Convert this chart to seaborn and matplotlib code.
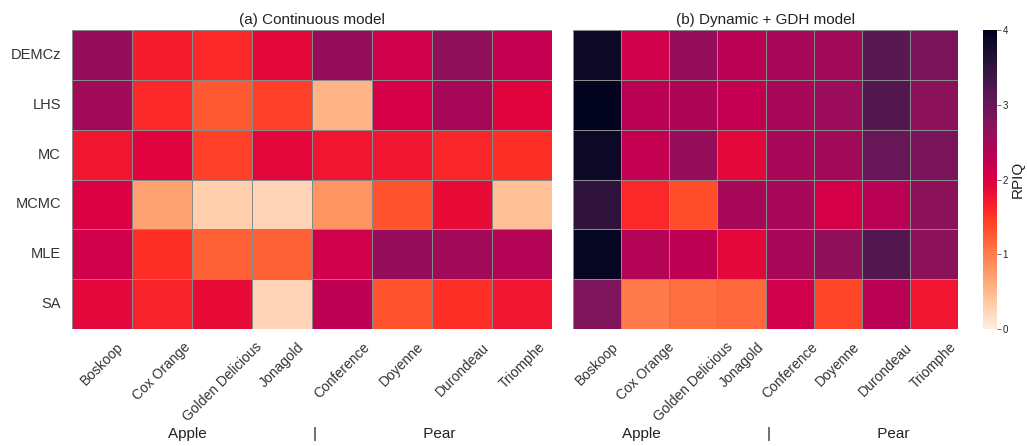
import numpy as np
import pandas as pd
import matplotlib
matplotlib.use("Agg")
import matplotlib.pyplot as plt
import matplotlib.colors as mcolors
import seaborn as sns

# Methods (rows) and cultivars (columns)
metodos = ["DEMCz", "LHS", "MC", "MCMC", "MLE", "SA"]
cultivares = ["Boskoop", "Cox Orange", "Golden Delicious", "Jonagold",
              "Conference", "Doyenne", "Durondeau", "Triomphe"]

# RPIQ values
rpiq_continuo = [
    [2.60, 1.70, 1.60, 1.90, 2.60, 2.10, 2.65, 2.20],
    [2.50, 1.60, 1.25, 1.45, 0.55, 2.05, 2.45, 1.95],
    [1.75, 1.95, 1.45, 1.90, 1.75, 1.75, 1.62, 1.55],
    [2.00, 0.70, 0.30, 0.25, 0.80, 1.30, 1.85, 0.45],
    [2.10, 1.55, 1.20, 1.20, 2.10, 2.60, 2.50, 2.35],
    [1.90, 1.65, 1.85, 0.25, 2.25, 1.30, 1.55, 1.75],
]
rpiq_dinamico = [
    [3.85, 2.10, 2.60, 2.30, 2.45, 2.50, 3.15, 2.85],
    [3.95, 2.30, 2.40, 2.20, 2.45, 2.55, 3.20, 2.70],
    [3.85, 2.20, 2.60, 1.90, 2.45, 2.50, 3.00, 2.85],
    [3.50, 1.60, 1.35, 2.45, 2.45, 2.05, 2.30, 2.70],
    [3.90, 2.35, 2.25, 1.90, 2.45, 2.65, 3.20, 2.70],
    [2.80, 1.00, 1.10, 1.15, 2.10, 1.40, 2.30, 1.75],
]
titulos = ["(a) Continuous model", "(b) Dynamic + GDH model"]

sns.set_theme(style="white")
plt.rcParams["font.family"] = ["Liberation Sans", "DejaVu Sans"]

# rocket_r, a bit more saturated like the original figure
base = np.array(sns.color_palette("rocket_r", 256))
hsv = mcolors.rgb_to_hsv(base)
hsv[:, 1] = np.clip(hsv[:, 1] * 1.15, 0, 1)
hsv[:, 2] = np.clip(hsv[:, 2] * 1.08, 0, 1)
cmapa = mcolors.ListedColormap(mcolors.hsv_to_rgb(hsv))

W, H = 1027, 446
fig = plt.figure(figsize=(W / 100, H / 100), dpi=100)

def caixa(x0, y0, x1, y1):
    return [x0 / W, 1 - y1 / H, (x1 - x0) / W, (y1 - y0) / H]

ax1 = fig.add_axes(caixa(72, 30, 552, 329))
ax2 = fig.add_axes(caixa(573, 30, 958, 329))
cax = fig.add_axes(caixa(983, 30, 997, 329))

rotulo_x = "Apple" + " " * 25 + "|" + " " * 25 + "Pear"

for i, (ax, dados, titulo) in enumerate(zip([ax1, ax2], [rpiq_continuo, rpiq_dinamico], titulos)):
    df = pd.DataFrame(dados, index=metodos, columns=cultivares)
    sns.heatmap(df, ax=ax, cmap=cmapa, vmin=0, vmax=4,
                linewidths=0.5, linecolor="#8a8a8a",
                cbar=(i == 1), cbar_ax=cax if i == 1 else None,
                yticklabels=(i == 0))
    ax.set_title(titulo, fontsize=11, color="#222222", pad=4)
    ax.set_xticklabels(cultivares, rotation=45, ha="center", fontsize=10, color="#333333")
    if i == 0:
        ax.set_yticklabels(metodos, rotation=0, fontsize=10.5, color="#333333")
    ax.tick_params(length=0, pad=8)
    ax.set_xlabel(rotulo_x, fontsize=11, color="#222222", labelpad=2)
    ax.set_ylabel("")

cbar = ax2.collections[0].colorbar
cbar.set_ticks([0, 1, 2, 3, 4])
cbar.ax.tick_params(labelsize=7, length=3, width=0.6, color="#555555", pad=1)
cbar.outline.set_visible(False)
cbar.set_label("RPIQ", fontsize=11, color="#222222", labelpad=2)

plt.savefig("out.png", dpi=100)
